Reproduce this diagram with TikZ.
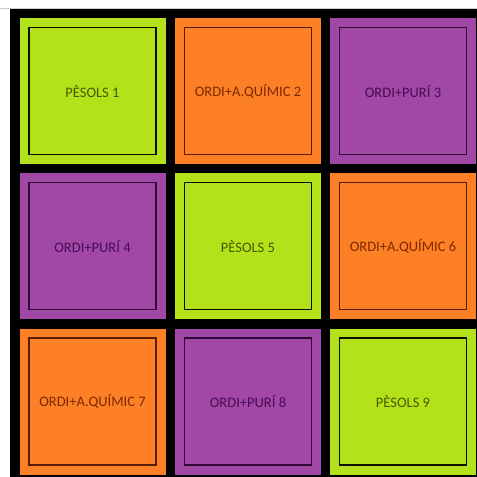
\documentclass[tikz,border=0pt]{standalone}
\usepackage{fontspec}
\setmainfont{Carlito}
\definecolor{pgreen}{RGB}{180,226,26}
\definecolor{porange}{RGB}{253,128,38}
\definecolor{ppurple}{RGB}{161,71,166}
\definecolor{tgreen}{RGB}{70,92,0}
\definecolor{torange}{RGB}{125,40,0}
\definecolor{tpurple}{RGB}{72,12,82}
\begin{document}
\begin{tikzpicture}[x=1pt,y=-1pt,
  cellbox/.style={draw=none,minimum size=146pt,inner sep=0pt,outer sep=0pt},
  innerbox/.style={draw=#1,line width=1.3pt,minimum size=127pt,inner sep=0pt,font=\fontsize{14.5}{16}\selectfont},
  gcell/.style={cellbox,fill=pgreen},
  ocell/.style={cellbox,fill=porange},
  vcell/.style={cellbox,fill=ppurple},
  gtext/.style={innerbox=black!85!tgreen,text=tgreen},
  otext/.style={innerbox=torange!70!black,text=torange},
  vtext/.style={innerbox=tpurple!70!black,text=tpurple}]
\useasboundingbox (0,0) rectangle (477,477);
\fill[white] (0,0) rectangle (477,477);
\fill[black] (10,9) rectangle (477,477);
\draw[gray!40,line width=0.6pt] (0,8.5) -- (477,8.5);
% row 1
\node[gcell] (c1) at (92.5,91) {};
\node[gtext] (t1) at (c1.center) {PÈSOLS 1};
\node[ocell] (c2) at (248,91) {};
\node[otext] (t2) at (c2.center) {ORDI+A.QUÍMIC 2};
\node[vcell] (c3) at (403,91) {};
\node[vtext] (t3) at (c3.center) {ORDI+PURÍ 3};
% row 2
\node[vcell] (c4) at (92.5,246) {};
\node[vtext] (t4) at (c4.center) {ORDI+PURÍ 4};
\node[gcell] (c5) at (248,246) {};
\node[gtext] (t5) at (c5.center) {PÈSOLS 5};
\node[ocell] (c6) at (403,246) {};
\node[otext] (t6) at (c6.center) {ORDI+A.QUÍMIC 6};
% row 3
\node[ocell] (c7) at (92.5,401.5) {};
\node[otext] (t7) at (c7.center) {ORDI+A.QUÍMIC 7};
\node[vcell] (c8) at (248,401.5) {};
\node[vtext] (t8) at (c8.center) {ORDI+PURÍ 8};
\node[gcell] (c9) at (403,401.5) {};
\node[gtext] (t9) at (c9.center) {PÈSOLS 9};
\end{tikzpicture}
\end{document}
